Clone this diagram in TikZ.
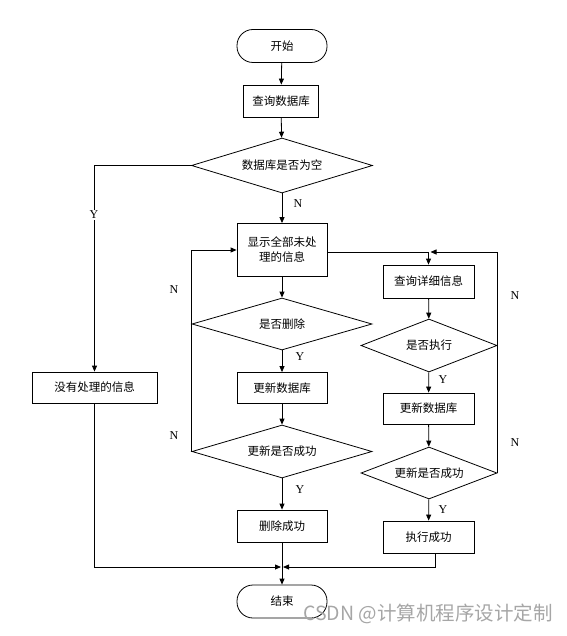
\documentclass[tikz,border=0pt]{standalone}
\usepackage{fontspec}
\setmainfont{Liberation Serif}
\newfontfamily\cjk{Noto Sans CJK SC}
\usetikzlibrary{shapes.geometric,arrows.meta}
\begin{document}
\begin{tikzpicture}[x=1pt,y=-1pt,
  every node/.style={font=\cjk\fontsize{11.5}{15}\selectfont},
  box/.style={draw,line width=0.8pt,inner sep=0pt,align=center},
  term/.style={draw,line width=0.8pt,inner sep=0pt,rounded corners=16pt,minimum width=90pt,minimum height=33pt},
  dia/.style={draw,line width=0.8pt,diamond,inner sep=0pt,aspect=3},
  yn/.style={font=\rmfamily\fontsize{12}{14}\selectfont,inner sep=1pt},
  conn/.style={line width=0.8pt,-{Triangle[length=6pt,width=5pt]}},
  line/.style={line width=0.8pt}]
\useasboundingbox (0,0) rectangle (566,636);
\node[term] (start) at (282,46) {开始};
\node[box,minimum width=75pt,minimum height=32pt] (q1) at (281,101) {查询数据库};
\node[dia,minimum width=181pt,minimum height=55pt] (d1) at (282,165.5) {数据库是否为空};
\node[box,minimum width=125pt,minimum height=31pt] (noinfo) at (94.5,387.5) {没有处理的信息};
\node[box,minimum width=90pt,minimum height=53pt] (show) at (282,250) {显示全部未处\\理的信息};
\node[dia,minimum width=180pt,minimum height=52pt] (d2) at (282,324) {是否删除};
\node[box,minimum width=90pt,minimum height=31pt] (upd1) at (282,388) {更新数据库};
\node[dia,minimum width=180pt,minimum height=53pt] (d3) at (282,451.5) {更新是否成功};
\node[box,minimum width=90pt,minimum height=32pt] (delok) at (282,526) {删除成功};
\node[term] (end) at (282,601.5) {结束};
\node[box,minimum width=91pt,minimum height=33pt] (q2) at (428.5,281.5) {查询详细信息};
\node[dia,minimum width=136pt,minimum height=53pt] (d4) at (429,345.5) {是否执行};
\node[box,minimum width=91pt,minimum height=31pt] (upd2) at (428.5,408.5) {更新数据库};
\node[dia,minimum width=136pt,minimum height=52pt] (d5) at (429,473) {更新是否成功};
\node[box,minimum width=91pt,minimum height=32pt] (exok) at (428.5,537) {执行成功};
\coordinate (join) at (282,567);
\coordinate (top2) at (q2.north |- 0,252);
% main column
\draw[conn] (start) -- (q1);
\draw[conn] (q1) -- (d1);
\draw[conn] (d1.south) -- (show.north);
\node[yn] (n1) at (298,204) {N};
\draw[conn] (d1.west) -| (noinfo.north);
\node[yn,fill=white] (y1) at (94,215) {Y};
\draw[conn] (noinfo.south) |- ([xshift=-1pt]join);
\draw[conn] (exok.south -| 435,0) |- ([xshift=1pt]join);
\draw[conn] (delok.south) -- (end.north);
% left loop
\draw[conn] (show) -- (d2);
\draw[conn] (d2) -- (upd1);
\node[yn] (y2) at (300,357) {Y};
\draw[conn] (upd1) -- (d3);
\draw[conn] (d3) -- (delok);
\node[yn] (y3) at (300,490) {Y};
\draw[conn] (d3.west) -- (d2.west) |- (show.west);
\node[yn] (n2) at (174,290) {N};
\node[yn] (n3) at (174,436) {N};
% right loop
\draw[line] (show.east |- top2) -- (top2);
\draw[conn] (top2) -- (q2.north);
\draw[conn] (d4.east) -- (d4.east |- top2) -- ([xshift=2pt]top2);
\draw[line] (d5.east) -- (d4.east);
\node[yn] (n4) at (515,296) {N};
\node[yn] (n5) at (515,443) {N};
\draw[conn] (q2) -- (d4);
\draw[conn] (d4) -- (upd2);
\node[yn] (y4) at (443,380) {Y};
\draw[conn] (upd2) -- (d5);
\draw[conn] (d5) -- (exok);
\node[yn] (y5) at (443,510) {Y};
% watermark
\node[font=\fontspec{Noto Sans CJK SC}\fontsize{19.5}{21}\selectfont,text=black!35,inner sep=0pt,anchor=east] (wm) at (553,614) {CSDN @计算机程序设计定制};
\end{tikzpicture}
\end{document}
